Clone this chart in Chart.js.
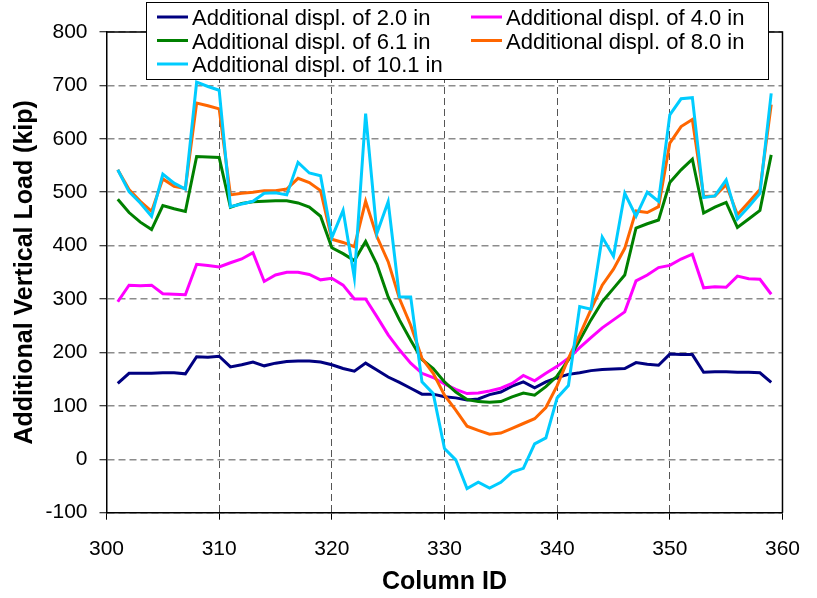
<!DOCTYPE html>
<html>
<head>
<meta charset="utf-8">
<script src="https://cdn.jsdelivr.net/npm/chart.js@4/dist/chart.umd.min.js"></script>
<style>
  body { margin: 0; background: #fff; }
  #wrap { position: relative; width: 817px; height: 598px; }
</style>
</head>
<body>
<div id="wrap"><canvas id="loadChart"></canvas></div>
<script>
// column IDs along the x axis
const columnIds = [301, 302, 303, 304, 305, 306, 307, 308, 309, 310,
  311, 312, 313, 314, 315, 316, 317, 318, 319, 320,
  321, 322, 323, 324, 325, 326, 327, 328, 329, 330,
  331, 332, 333, 334, 335, 336, 337, 338, 339, 340,
  341, 342, 343, 344, 345, 346, 347, 348, 349, 350,
  351, 352, 353, 354, 355, 356, 357, 358, 359];

// additional vertical load (kip) for each imposed displacement
const displ20 = [142, 161, 161, 161, 162, 162, 160, 192, 191, 193,
  173, 177, 182, 175, 180, 183, 184, 184, 182, 177,
  170, 165, 180, 167, 154, 144, 133, 122, 122, 117,
  115, 111, 113, 121, 126, 137, 145, 134, 145, 153,
  159, 162, 166, 168, 169, 170, 181, 178, 176, 197,
  196, 196, 163, 164, 164, 163, 163, 162, 144];
const displ40 = [295, 326, 325, 326, 310, 309, 308, 365, 363, 360,
  368, 375, 387, 333, 345, 350, 350, 346, 336, 339,
  326, 300, 300, 267, 233, 205, 180, 161, 153, 141,
  131, 123, 124, 128, 133, 142, 157, 147, 161, 174,
  189, 209, 228, 246, 261, 276, 334, 345, 359, 363,
  375, 384, 321, 323, 322, 343, 338, 337, 309];
const displ61 = [487, 462, 444, 430, 475, 469, 464, 567, 566, 565,
  472, 479, 482, 483, 484, 484, 480, 472, 455, 396,
  385, 372, 408, 365, 304, 261, 223, 187, 170, 145,
  126, 112, 108, 107, 108, 117, 124, 120, 136, 156,
  186, 223, 261, 295, 320, 345, 433, 441, 448, 518,
  542, 562, 461, 472, 481, 434, 450, 466, 570];
const displ80 = [542, 505, 483, 464, 525, 511, 507, 667, 662, 656,
  495, 498, 500, 503, 503, 506, 526, 518, 503, 412,
  406, 398, 483, 417, 370, 301, 251, 189, 161, 120,
  92, 62, 54, 47, 49, 58, 67, 76, 97, 138,
  189, 233, 280, 326, 356, 395, 465, 462, 473, 592,
  623, 636, 492, 493, 514, 458, 481, 505, 664];
const displ101 = [542, 501, 480, 455, 534, 517, 506, 706, 698, 691,
  473, 478, 483, 498, 499, 495, 556, 536, 531, 415,
  466, 340, 647, 423, 482, 304, 304, 145, 123, 20,
  -1, -55, -43, -54, -43, -24, -17, 29, 40, 115,
  138, 286, 281, 416, 380, 498, 455, 500, 483, 645,
  675, 677, 490, 493, 523, 450, 473, 498, 685];

const seriesNames = ['Additional displ. of 2.0 in', 'Additional displ. of 4.0 in',
  'Additional displ. of 6.1 in', 'Additional displ. of 8.0 in', 'Additional displ. of 10.1 in'];
const seriesColors = ['#000080', '#ff00ff', '#008000', '#ff6600', '#00ccff'];
const seriesValues = [displ20, displ40, displ61, displ80, displ101];

const FONT = "'Liberation Sans', Arial, sans-serif";

function toPoints(vals) {
  return columnIds.map((id, i) => ({x: id, y: vals[i]}));
}

// solid frame on top/right + boxed legend sitting over the plot
const framePlugin = {
  id: 'frameAndLegend',
  afterDraw(chart) {
    const {ctx, chartArea: a} = chart;
    ctx.save();
    ctx.strokeStyle = '#000';
    ctx.lineWidth = 1.5;
    ctx.beginPath();
    ctx.moveTo(a.left, a.top);
    ctx.lineTo(a.right, a.top);
    ctx.lineTo(a.right, a.bottom);
    ctx.stroke();

    // legend box
    ctx.fillStyle = '#fff';
    ctx.fillRect(146, 2, 622, 77);
    ctx.lineWidth = 1;
    ctx.strokeStyle = '#000';
    ctx.strokeRect(146.5, 2.5, 622, 77);

    const cols = [157, 471];
    const rows = [25, 48.5, 72];
    ctx.font = '22px ' + FONT;
    ctx.textBaseline = 'alphabetic';
    ctx.textAlign = 'left';
    seriesNames.forEach((name, i) => {
      const cx = cols[i % 2];
      const ry = rows[Math.floor(i / 2)];
      ctx.strokeStyle = seriesColors[i];
      ctx.lineWidth = 3;
      ctx.beginPath();
      ctx.moveTo(cx, ry - 8);
      ctx.lineTo(cx + 31, ry - 8);
      ctx.stroke();
      ctx.fillStyle = '#000';
      ctx.fillText(name, cx + 35, ry);
    });
    ctx.restore();
  }
};

new Chart(document.getElementById('loadChart'), {
  type: 'line',
  data: {
    datasets: seriesNames.map((name, i) => ({
      label: name,
      data: toPoints(seriesValues[i]),
      borderColor: seriesColors[i],
      backgroundColor: seriesColors[i],
      borderWidth: 3,
      pointRadius: 0,
      tension: 0,
      fill: false,
      order: 5 - i
    }))
  },
  options: {
    responsive: true,
    maintainAspectRatio: false,
    animation: false,
    layout: {
      padding: {left: 4, right: 21, top: 32, bottom: 0}
    },
    scales: {
      x: {
        type: 'linear',
        min: 300,
        max: 360,
        afterFit: s => { s.height = 85.3; },
        ticks: {
          stepSize: 10,
          color: '#000',
          padding: 17,
          maxRotation: 0,
          font: {family: FONT, size: 21}
        },
        grid: {
          color: '#555',
          lineWidth: 1,
          tickLength: 7,
          tickColor: '#000',
          tickWidth: 1
        },
        border: {display: true, color: '#000', width: 1.5, dash: [7, 4]},
        title: {
          display: true,
          text: 'Column ID',
          color: '#000',
          padding: {top: 0, bottom: 1},
          font: {family: FONT, size: 25, weight: 'bold'}
        }
      },
      y: {
        min: -100,
        max: 800,
        afterFit: s => { s.width = 102.5; },
        ticks: {
          stepSize: 100,
          color: '#000',
          padding: 12,
          font: {family: FONT, size: 21}
        },
        grid: {
          color: '#8c8c8c',
          lineWidth: 1.5,
          tickLength: 7,
          tickColor: '#000',
          tickWidth: 1
        },
        border: {display: true, color: '#000', width: 1.5, dash: [7, 4]},
        title: {
          display: true,
          text: 'Additional Vertical Load (kip)',
          color: '#000',
          padding: {top: 6, bottom: 0},
          font: {family: FONT, size: 25, weight: 'bold'}
        }
      }
    },
    plugins: {
      legend: {display: false},
      tooltip: {enabled: false}
    }
  },
  plugins: [framePlugin]
});
</script>
</body>
</html>
